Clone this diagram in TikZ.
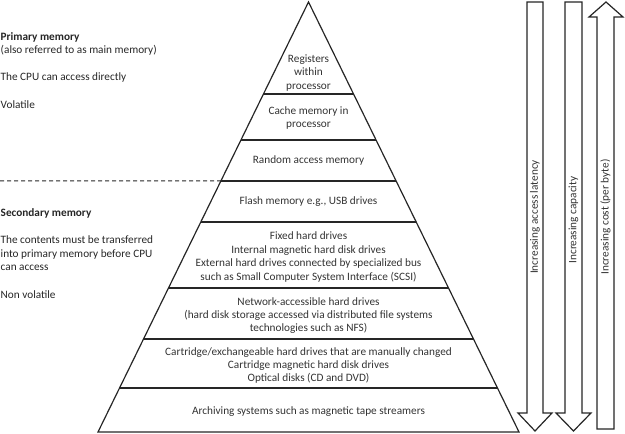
\documentclass[tikz,border=0pt]{standalone}
\usepackage{fontspec}
\setmainfont{Carlito}
\usetikzlibrary{calc}
\begin{document}
\begin{tikzpicture}[x=1bp,y=-1bp, line join=miter,
  txt/.style={font=\fontsize{11.3}{13.4}\selectfont, text=black!80, inner sep=0pt, align=center},
  side/.style={font=\fontsize{11.3}{13.6}\selectfont, text=black!85, inner sep=0pt, anchor=west, align=left},
  edgeline/.style={draw=black!85, line width=1.2bp},
  blk/.style={draw=black!85, line width=1.2bp, fill=white}]
\useasboundingbox (0,0) rectangle (625,434);
% pyramid
\coordinate (A) at (308.5,2);
\coordinate (BL) at (98,432);
\coordinate (BR) at (519,432);
\draw[edgeline] (BL) -- (A) -- (BR) -- cycle;
\foreach \y/\n in {94/1,140/2,181/3,222/4,288/5,339/6,388/7}{
  \coordinate (L\n) at ($(A)!{(\y-2)/430}!(BL)$);
  \coordinate (R\n) at ($(A)!{(\y-2)/430}!(BR)$);
  \draw[edgeline] (L\n) -- (R\n);
}
\coordinate (D0) at (0,181);
\draw[edgeline, line width=1bp, dash pattern=on 4bp off 3bp] (D0) -- (L3);
% pyramid texts
\node[txt] (t1) at (308.5,73) {Registers\\within\\processor};
\node[txt] (t2) at (308.5,118) {Cache memory in\\processor};
\node[txt] (t3) at (308.5,161) {Random access memory};
\node[txt] (t4) at (308.5,202) {Flash memory e.g., USB drives};
\node[txt] (t5) at (308.5,257) {Fixed hard drives\\Internal magnetic hard disk drives\\External hard drives connected by specialized bus\\such as Small Computer System Interface (SCSI)};
\node[txt] (t6) at (308.5,315.5) {Network-accessible hard drives\\(hard disk storage accessed via distributed file systems\\technologies such as NFS)};
\node[txt] (t7) at (308.5,365.5) {Cartridge/exchangeable hard drives that are manually changed\\Cartridge magnetic hard disk drives\\Optical disks (CD and DVD)};
\node[txt] (t8) at (308.5,412) {Archiving systems such as magnetic tape streamers};
% left texts
\node[side] (p1) at (0.5,44) {\textbf{Primary memory}\\(also referred to as main memory)};
\node[side] (p2) at (0.5,78) {The CPU can access directly};
\node[side] (p3) at (0.5,105) {Volatile};
\node[side] (s1) at (0.5,213) {\textbf{Secondary memory}};
\node[side] (s2) at (0.5,253.5) {The contents must be transferred\\into primary memory before CPU\\can access};
\node[side] (s3) at (0.5,295) {Non volatile};
% block arrows
\draw[blk] (527,2) -- (543,2) -- (543,413) -- (552,413) -- (535,431) -- (518,413) -- (527,413) -- cycle;
\draw[blk] (565,2) -- (582,2) -- (582,413) -- (591,413) -- (573.5,431) -- (556,413) -- (565,413) -- cycle;
\draw[blk] (597,429) -- (614,429) -- (614,17) -- (623,17) -- (606,2) -- (589,17) -- (597,17) -- cycle;
\node[txt, rotate=90] (a1) at (535,217) {Increasing access latency};
\node[txt, rotate=90] (a2) at (573.5,220) {Increasing capacity};
\node[txt, rotate=90] (a3) at (605.5,217) {Increasing cost (per byte)};
\end{tikzpicture}
\end{document}
